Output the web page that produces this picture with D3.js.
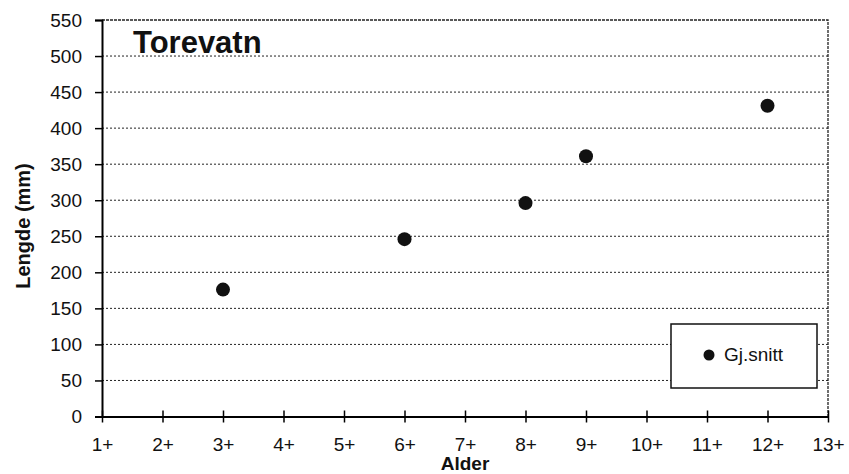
<!DOCTYPE html>
<html>
<head>
<meta charset="utf-8">
<script src="https://cdn.jsdelivr.net/npm/d3@7"></script>
<style>
  body { margin: 0; background: #fff; }
  text { font-family: "Liberation Sans", Arial, sans-serif; fill: #111; }
</style>
</head>
<body>
<div id="chart-area"></div>
<script>
// data
const ageLabels = ['1+', '2+', '3+', '4+', '5+', '6+', '7+', '8+', '9+', '10+', '11+', '12+', '13+'];
const ageValues = [3, 6, 8, 9, 12];
const meanLength = [176, 246, 296, 361, 431];
const yTicks = [0, 50, 100, 150, 200, 250, 300, 350, 400, 450, 500, 550];
const title = 'Torevatn';
const legendLabel = 'Gj.snitt';

const chartSize = { width: 849, height: 474 };
const margin = { left: 102, right: 21, top: 20, bottom: 57.5 };
const width = chartSize.width - (margin.left + margin.right);
const height = chartSize.height - (margin.top + margin.bottom);

const svg = d3.select('#chart-area').append('svg')
  .attr('width', chartSize.width)
  .attr('height', chartSize.height);

const g = svg.append('g')
  .attr('transform', `translate(${margin.left},${margin.top})`);

const x = d3.scaleLinear().domain([1, 13]).range([0, width]);
const y = d3.scaleLinear().domain([0, 550]).range([height, 0]);

// dotted grid lines
g.append('g').selectAll('line')
  .data(yTicks.filter(d => d > 0 && d < 550))
  .join('line')
  .attr('x1', 0).attr('x2', width)
  .attr('y1', d => y(d)).attr('y2', d => y(d))
  .attr('stroke', '#222')
  .attr('stroke-width', 1)
  .attr('stroke-dasharray', '2,2');

// top and right frame
g.append('path')
  .attr('d', `M0,${y(550)}H${width}V${height}`)
  .attr('fill', 'none')
  .attr('stroke', '#222')
  .attr('stroke-width', 1.3)
  .attr('stroke-dasharray', '3,1');

// y axis
const yAxis = d3.axisLeft(y).tickValues(yTicks).tickSize(7).tickPadding(13);
g.append('g')
  .attr('class', 'y axis')
  .call(yAxis)
  .call(a => a.select('.domain').attr('stroke-width', 2))
  .call(a => a.selectAll('.tick line').attr('stroke-width', 1.5))
  .call(a => a.selectAll('.tick text')
    .style('font-size', '19px')
    .attr('fill', '#111'));

// x axis
const xAxis = d3.axisBottom(x)
  .tickValues(d3.range(1, 14))
  .tickFormat((d, i) => ageLabels[i])
  .tickSize(6)
  .tickSizeOuter(0)
  .tickPadding(15);
g.append('g')
  .attr('class', 'x axis')
  .attr('transform', `translate(0,${height})`)
  .call(xAxis)
  .call(a => a.select('.domain').attr('stroke-width', 2))
  .call(a => a.selectAll('.tick line').attr('y1', -6).attr('stroke-width', 1.5))
  .call(a => a.selectAll('.tick text')
    .style('font-size', '19px')
    .attr('fill', '#111'));

// points
g.append('g').selectAll('circle')
  .data(ageValues.map((d, i) => ({ age: d, len: meanLength[i] })))
  .join('circle')
  .attr('cx', d => x(d.age))
  .attr('cy', d => y(d.len))
  .attr('r', 7)
  .attr('fill', '#111');

// title
g.append('text')
  .attr('x', 31)
  .attr('y', 33)
  .style('font-size', '31px')
  .style('font-weight', 'bold')
  .text(title);

// axis titles
svg.append('text')
  .attr('x', margin.left + x(7))
  .attr('y', 470)
  .attr('text-anchor', 'middle')
  .style('font-size', '19px')
  .style('font-weight', 'bold')
  .text('Alder');

svg.append('text')
  .attr('transform', 'translate(30,226) rotate(-90)')
  .attr('text-anchor', 'middle')
  .style('font-size', '20px')
  .style('font-weight', 'bold')
  .text('Lengde (mm)');

// legend
const legend = svg.append('g')
  .attr('transform', 'translate(671,324)');
legend.append('rect')
  .attr('width', 146)
  .attr('height', 64)
  .attr('fill', '#fff')
  .attr('stroke', '#111')
  .attr('stroke-width', 1.5);
legend.append('circle')
  .attr('cx', 38)
  .attr('cy', 31)
  .attr('r', 5.5)
  .attr('fill', '#111');
legend.append('text')
  .attr('x', 53)
  .attr('y', 37)
  .style('font-size', '19px')
  .text(legendLabel);
</script>
</body>
</html>
